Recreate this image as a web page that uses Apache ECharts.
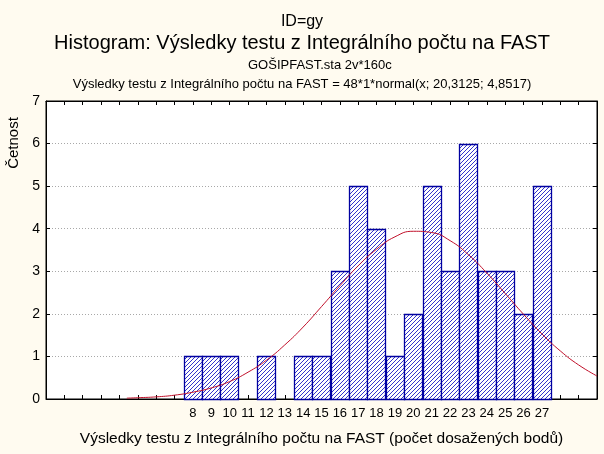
<!DOCTYPE html>
<html>
<head>
<meta charset="utf-8">
<script src="https://cdn.jsdelivr.net/npm/echarts@6/dist/echarts.min.js"></script>
<style>
  html, body { margin: 0; padding: 0; background: #fffbf0; }
  #chart { width: 604px; height: 454px; }
</style>
</head>
<body>
<div id="chart"></div>
<script>
// counts per score (počet dosažených bodů)
var scores = [8, 9, 10, 11, 12, 13, 14, 15, 16, 17, 18, 19, 20, 21, 22, 23, 24, 25, 26, 27];
var counts = [1, 1, 1, 0, 1, 0, 1, 1, 3, 5, 4, 1, 2, 5, 3, 6, 3, 3, 2, 5];
// fitted normal curve
var curveX = [4.4, 5, 6, 7, 8, 9, 10, 11, 12, 13, 14, 15, 16, 17, 18, 19, 20, 21, 22, 23, 24, 25, 26, 27, 28, 29, 30];
var curveY = [0.02, 0.03, 0.05, 0.09, 0.16, 0.26, 0.41, 0.63, 0.91, 1.27, 1.69, 2.17, 2.66, 3.13, 3.52, 3.81, 3.94, 3.91, 3.72, 3.39, 2.96, 2.48, 1.99, 1.53, 1.13, 0.80, 0.54];
var xTickLabels = ['8', '9', '10', '11', '12', '13', '14', '15', '16', '17', '18', '19', '20', '21', '22', '23', '24', '25', '26', '27'];
var yTickLabels = ['0', '1', '2', '3', '4', '5', '6', '7'];

var font = 'Arial, "Liberation Sans", sans-serif';
var navy = '#0000a0';

// hatch pattern for bars
var hatch = document.createElement('canvas');
hatch.width = 4;
hatch.height = 4;
var hctx = hatch.getContext('2d');
hctx.fillStyle = '#ffffff';
hctx.fillRect(0, 0, 4, 4);
hctx.fillStyle = '#3434cc';
for (var i = 0; i < 4; i++) {
  hctx.fillRect(i, 3 - i, 1, 1);
}

var barData = scores.map(function (s, i) { return [s, counts[i]]; });
var curveData = curveX.map(function (x, i) { return [x, curveY[i]]; });

var myChart = echarts.init(document.getElementById('chart'));
var option = {
  backgroundColor: '#fffbf0',
  animation: false,
  title: [
    { text: 'ID=gy', left: 'center', top: 9, textStyle: { fontFamily: font, fontSize: 16, fontWeight: 'normal', color: '#000' } },
    { text: 'Histogram: Výsledky testu z Integrálního počtu na FAST', left: 'center', top: 28, textStyle: { fontFamily: font, fontSize: 20, fontWeight: 'normal', color: '#000' } },
    { text: 'GOŠIPFAST.sta 2v*160c', left: 243, top: 54, textStyle: { fontFamily: font, fontSize: 13, fontWeight: 'normal', color: '#000' } },
    { text: 'Výsledky testu z Integrálního počtu na FAST = 48*1*normal(x; 20,3125; 4,8517)', left: 'center', top: 73, textStyle: { fontFamily: font, fontSize: 13, fontWeight: 'normal', color: '#000' } }
  ],
  graphic: [
    {
      type: 'text', x: 14, y: 143, rotation: Math.PI / 2,
      style: { text: 'Četnost', fontFamily: font, fontSize: 15, fill: '#000', align: 'center', verticalAlign: 'middle' }
    }
  ],
  grid: { left: 46, right: 7, top: 101, bottom: 55, show: true, backgroundColor: '#ffffff', borderColor: '#000', borderWidth: 1 },
  xAxis: [
    {
      type: 'value', min: 0, max: 30, interval: 1, position: 'bottom',
      name: 'Výsledky testu z Integrálního počtu na FAST (počet dosažených bodů)',
      nameLocation: 'middle', nameGap: 32,
      nameTextStyle: { fontFamily: font, fontSize: 15.5, color: '#000' },
      axisLine: { onZero: false, lineStyle: { color: '#000' } },
      axisTick: { inside: true, length: 4, lineStyle: { color: '#000' } },
      axisLabel: {
        fontFamily: font, fontSize: 13, color: '#000', margin: 8,
        formatter: function (v) { return xTickLabels.indexOf(String(v)) >= 0 ? String(v) : ''; }
      },
      splitLine: { show: false }
    },
    {
      type: 'value', min: 0, max: 30, interval: 1, position: 'top',
      axisLine: { onZero: false, lineStyle: { color: '#000' } },
      axisTick: { inside: true, length: 4, lineStyle: { color: '#000' } },
      axisLabel: { show: false },
      splitLine: { show: false }
    }
  ],
  yAxis: [
    {
      type: 'value', min: 0, max: 7, interval: 1, position: 'left',
      axisLine: { show: true, onZero: false, lineStyle: { color: '#000' } },
      axisTick: { show: true, inside: true, length: 4, lineStyle: { color: '#000' } },
      axisLabel: {
        fontFamily: font, fontSize: 14, color: '#000', margin: 6,
        formatter: function (v) { return yTickLabels[v]; }
      },
      splitLine: { show: true, lineStyle: { color: '#a8a8a8', type: [1, 2] } }
    },
    {
      type: 'value', min: 0, max: 7, interval: 1, position: 'right',
      axisLine: { show: true, onZero: false, lineStyle: { color: '#000' } },
      axisTick: { show: true, inside: true, length: 4, lineStyle: { color: '#000' } },
      axisLabel: { show: false },
      splitLine: { show: false }
    }
  ],
  series: [
    {
      type: 'custom',
      xAxisIndex: 0, yAxisIndex: 0,
      data: barData,
      renderItem: function (params, api) {
        var x = api.value(0), y = api.value(1);
        if (!y) return null;
        var p0 = api.coord([x - 0.5, y]);
        var p1 = api.coord([x + 0.5, 0]);
        return {
          type: 'rect',
          shape: { x: Math.round(p0[0]) + 0.5, y: Math.round(p0[1]) + 0.5, width: Math.round(p1[0] - p0[0]), height: Math.round(p1[1] - p0[1]) },
          style: { fill: { image: hatch, repeat: 'repeat' }, stroke: navy, lineWidth: 1.3 }
        };
      },
      z: 2
    },
    {
      type: 'line',
      xAxisIndex: 0, yAxisIndex: 0,
      data: curveData,
      smooth: true,
      showSymbol: false,
      lineStyle: { color: '#c0102a', width: 1 },
      z: 3
    }
  ]
};
option && myChart.setOption(option);
</script>
</body>
</html>
